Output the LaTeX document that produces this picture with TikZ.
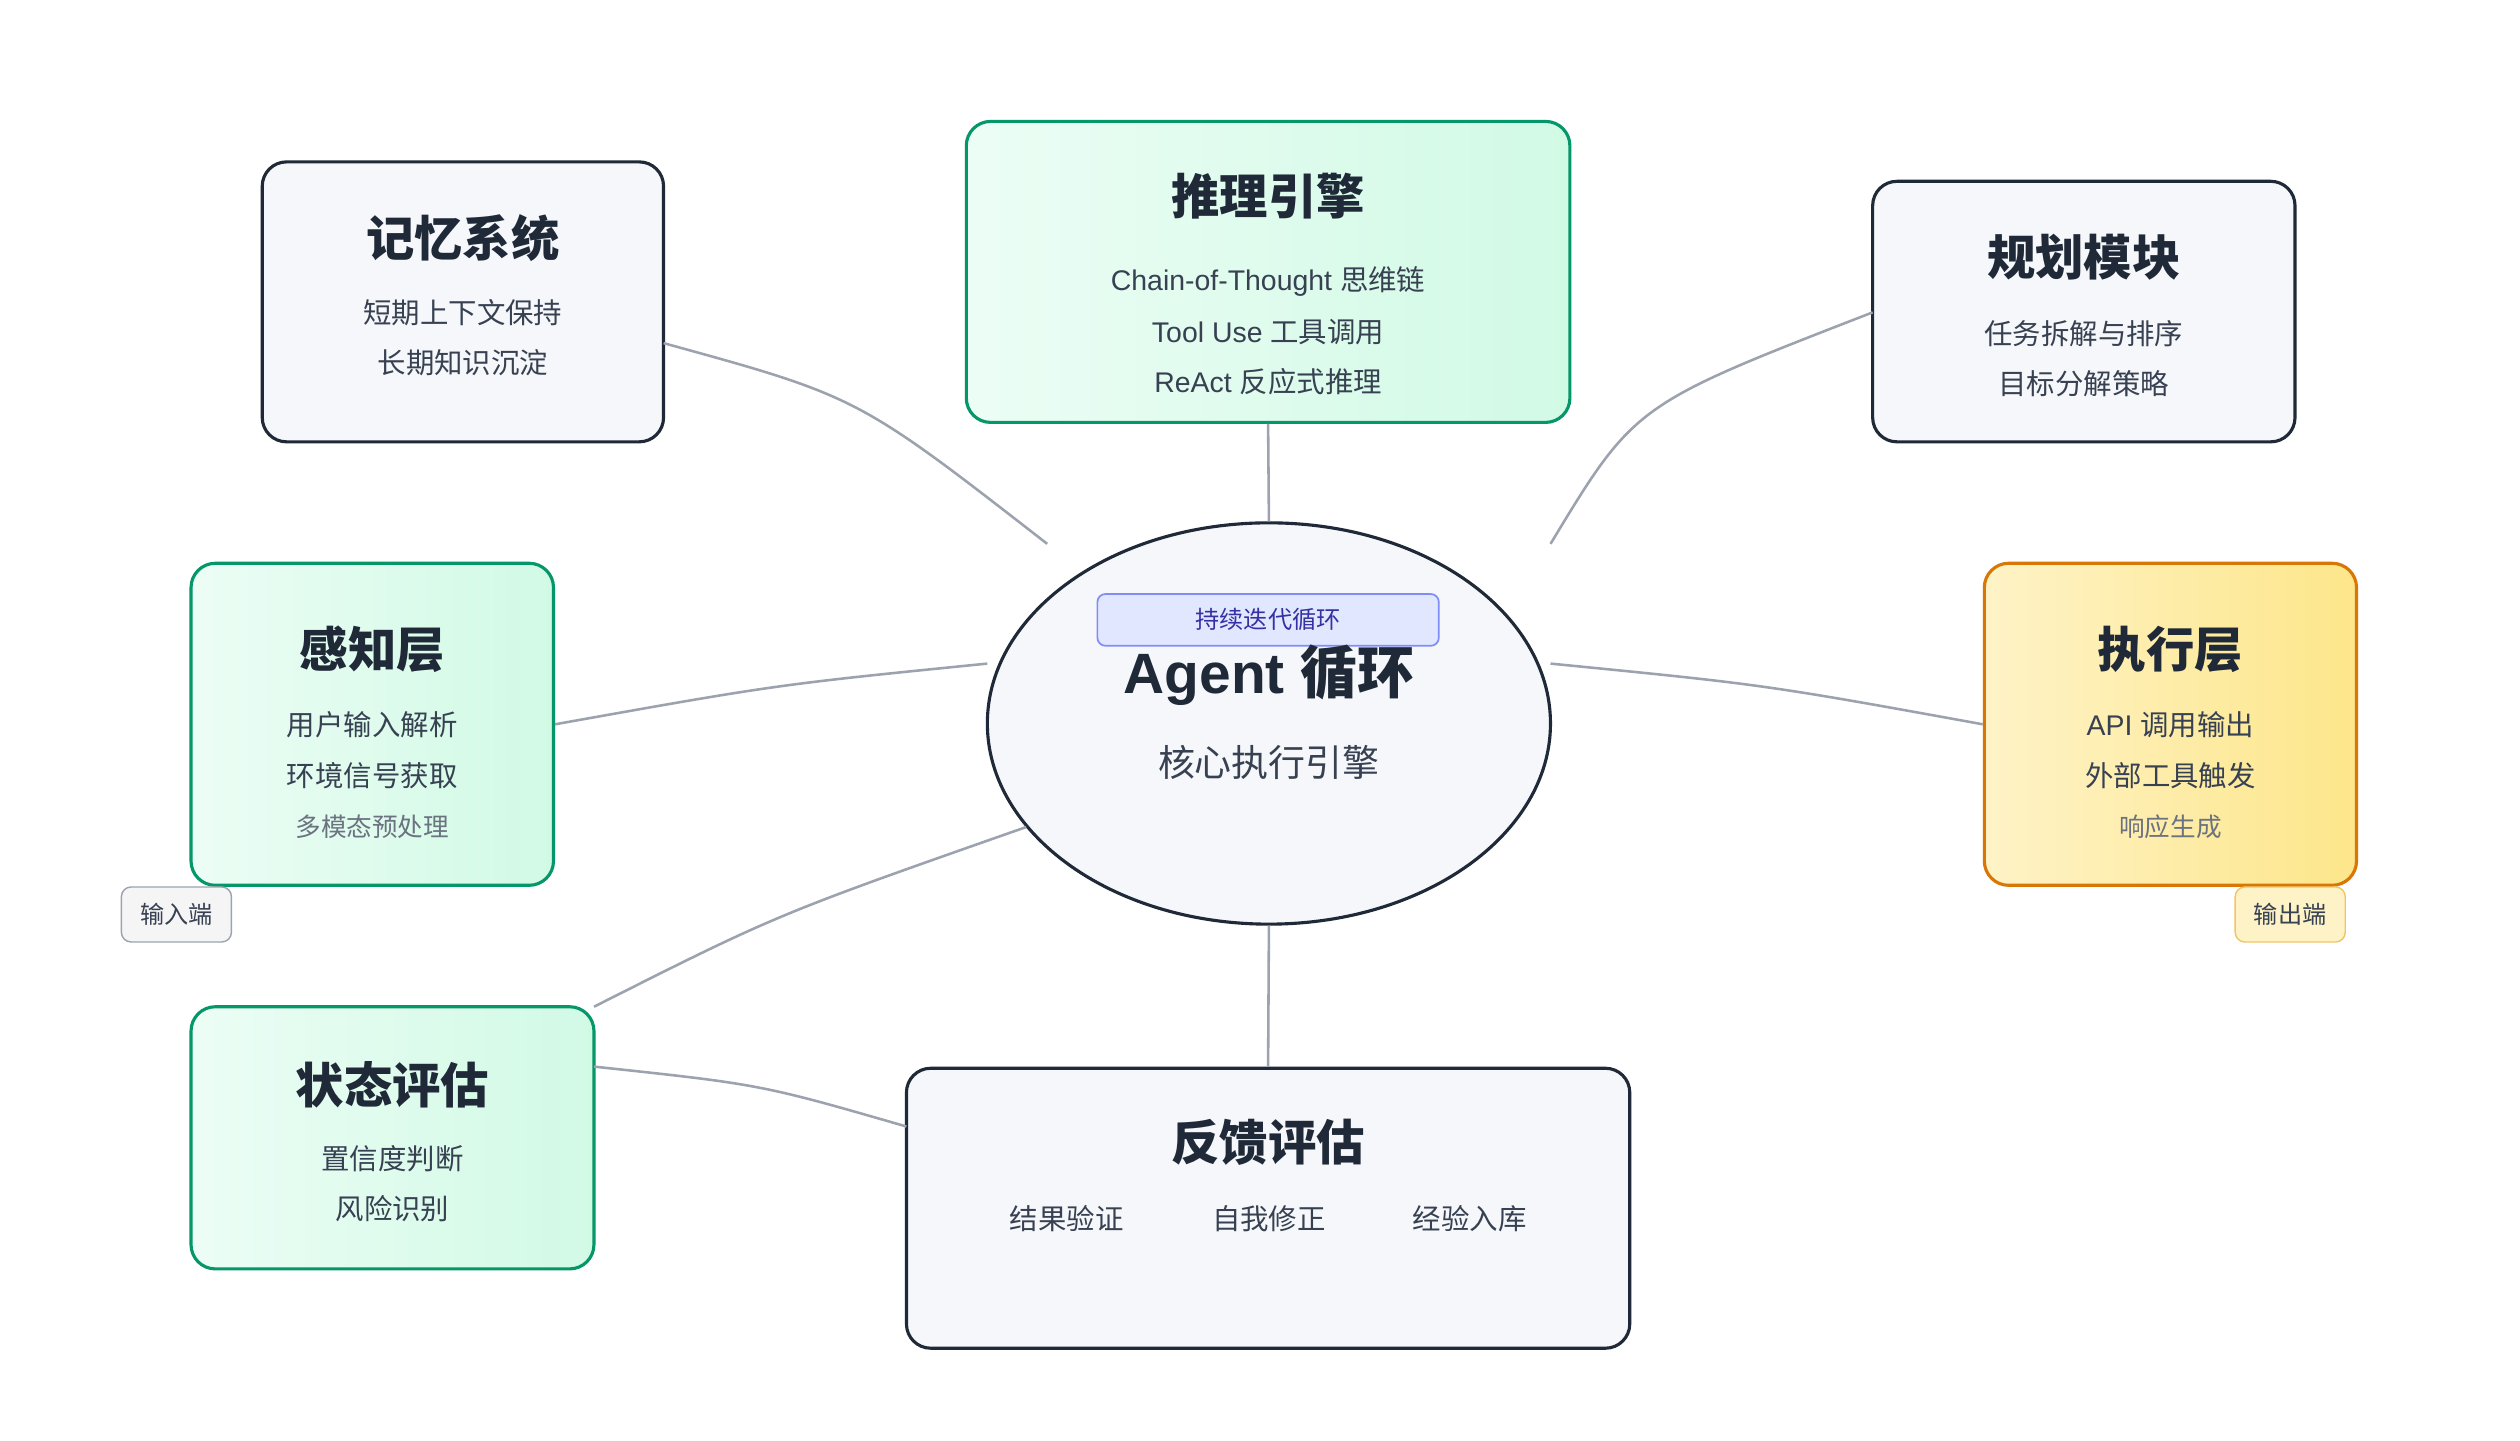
\documentclass[tikz,border=0pt]{standalone}
\usepackage{fontspec}
\setmainfont{Noto Sans CJK SC}
\setsansfont{Liberation Sans}
\usetikzlibrary{shapes.geometric,positioning}
\definecolor{ink}{HTML}{1F2937}
\definecolor{txt}{HTML}{374151}
\definecolor{mute}{HTML}{6B7280}
\definecolor{grn}{HTML}{059669}
\definecolor{grnA}{HTML}{ECFDF5}
\definecolor{grnB}{HTML}{D1FAE5}
\definecolor{org}{HTML}{D97706}
\definecolor{ylwA}{HTML}{FEF3C7}
\definecolor{ylwB}{HTML}{FDE68A}
\definecolor{pale}{HTML}{F5F7FA}
\definecolor{wire}{HTML}{9CA3AF}
\definecolor{badge}{HTML}{E0E7FF}
\definecolor{badgeb}{HTML}{818CF8}
\definecolor{badget}{HTML}{3730A3}
\tikzset{
  card/.style={draw=ink,line width=1.1pt,rounded corners=0.3cm,fill=pale},
  gcard/.style={draw=grn,line width=1.1pt,rounded corners=0.3cm,left color=grnA,right color=grnB},
  ycard/.style={draw=org,line width=1.1pt,rounded corners=0.3cm,left color=ylwA,right color=ylwB},
  ttl/.style={font=\fontsize{17}{20}\selectfont\bfseries,text=ink},
  itm/.style={font=\fontsize{10}{12}\selectfont,text=txt},
  sml/.style={font=\fontsize{9}{11}\selectfont,text=mute},
  tag/.style={draw,rounded corners=0.12cm,line width=0.5pt,minimum width=1.36cm,minimum height=0.68cm,font=\fontsize{8.5}{10}\selectfont,text=txt},
  wire/.style={draw=wire,line width=0.9pt}
}
\begin{document}
\begin{tikzpicture}[x=0.02cm,y=-0.02cm]
  \useasboundingbox[fill=white] (0,0) rectangle (1557,890);

  % boxes
  \node[card,minimum width=4.96cm,minimum height=3.46cm] (mem) at (286,186.5) {};
  \node[gcard,minimum width=7.46cm,minimum height=3.72cm] (rea) at (783.5,168) {};
  \node[card,minimum width=5.22cm,minimum height=3.22cm] (pla) at (1287.5,192.5) {};
  \node[gcard,minimum width=4.48cm,minimum height=3.98cm] (per) at (230,447.5) {};
  \node[ycard,minimum width=4.6cm,minimum height=3.98cm] (exe) at (1341,447.5) {};
  \node[gcard,minimum width=4.98cm,minimum height=3.24cm] (sta) at (242.5,703) {};
  \node[card,minimum width=8.94cm,minimum height=3.46cm] (fee) at (783.5,746.5) {};
  \node[ellipse,draw=ink,line width=1.1pt,fill=pale,minimum width=6.96cm,minimum height=4.96cm] (core) at (784,447) {};

  % texts
  \node[ttl] (memt) at (286,147) {记忆系统};
  \node[itm] at (286,193) {短期上下文保持};
  \node[itm] at (286,224) {长期知识沉淀};

  \node[ttl] (reat) at (783.5,121) {推理引擎};
  \node[itm] at (783.5,174) {\sffamily Chain-of-Thought \rmfamily 思维链};
  \node[itm] at (783.5,205) {\sffamily Tool Use \rmfamily 工具调用};
  \node[itm] at (783.5,236) {\sffamily ReAct \rmfamily 反应式推理};

  \node[ttl] (plat) at (1287.5,159) {规划模块};
  \node[itm] at (1287.5,206) {任务拆解与排序};
  \node[itm] at (1287.5,237) {目标分解策略};

  \node[ttl] (pert) at (230,401) {感知层};
  \node[itm] at (230,448) {用户输入解析};
  \node[itm] at (230,479) {环境信号获取};
  \node[sml] at (230,511) {多模态预处理};

  \node[ttl] (exet) at (1341,401) {执行层};
  \node[itm] at (1341,448) {\sffamily API \rmfamily 调用输出};
  \node[itm] at (1341,479) {外部工具触发};
  \node[sml] at (1341,511) {响应生成};

  \node[ttl] (stat) at (242.5,670) {状态评估};
  \node[itm] at (242.5,716) {置信度判断};
  \node[itm] at (242.5,747) {风险识别};

  \node[ttl] (feet) at (783.5,706) {反馈评估};
  \node[itm] at (659,753) {结果验证};
  \node[itm] at (784,753) {自我修正};
  \node[itm] at (908,753) {经验入库};

  \node[draw=badgeb,fill=badge,rounded corners=0.1cm,line width=0.6pt,minimum width=4.22cm,minimum height=0.64cm,font=\fontsize{8.5}{10}\selectfont,text=badget] (loop) at (783.5,383) {持续迭代循环};
  \node[font=\fontsize{20}{24}\selectfont\bfseries,text=ink] (coret) at (784,417) {\sffamily Agent \rmfamily 循环};
  \node[font=\fontsize{13}{16}\selectfont,text=txt] (cores) at (784,471) {核心执行引擎};

  \node[tag,draw=wire,fill=gray!8] (inp) at (109,565) {输入端};
  \node[tag,draw=ylwB!70!org,fill=ylwA] (outp) at (1415,565) {输出端};

  % connectors
  \coordinate (c1) at (647,336);
  \coordinate (c2) at (958,336);
  \coordinate (c3) at (610,410);
  \coordinate (c4) at (958,410);
  \coordinate (c5) at (634,511);
  \coordinate (m1) at (410,212);
  \coordinate (p1) at (1157,193);
  \coordinate (s1) at (367,622);
  \coordinate (s2) at (367,659);
  \coordinate (f1) at (560,696);
  \path[wire] (m1) .. controls (530,245) .. (c1);
  \path[wire] (rea.south) -- (core.north);
  \path[wire] (p1) .. controls (1010,250) .. (c2);
  \path[wire] (per.east) .. controls (480,423) .. (c3);
  \path[wire] (exe.west) .. controls (1090,423) .. (c4);
  \path[wire] (s1) .. controls (480,565) .. (c5);
  \path[wire] (s2) .. controls (470,670) .. (f1);
  \path[wire] (fee.north) -- (core.south);
\end{tikzpicture}
\end{document}
